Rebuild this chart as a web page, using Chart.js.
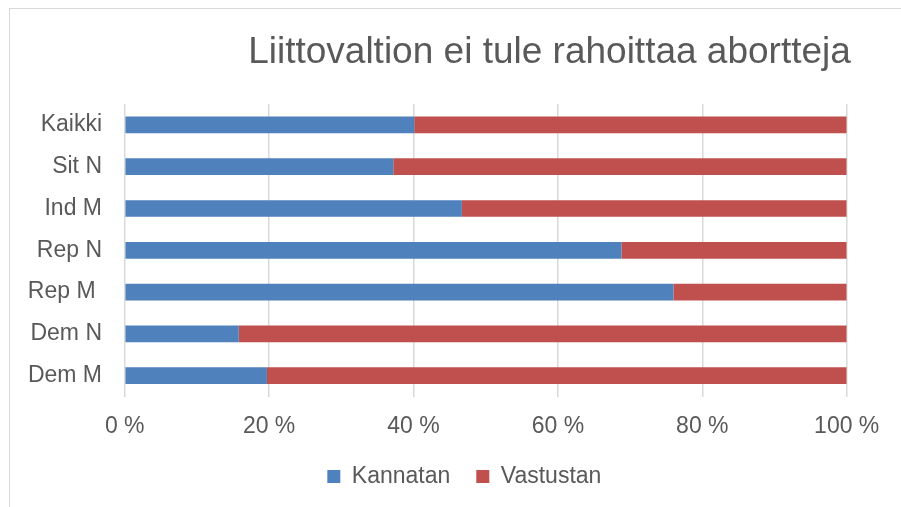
<!DOCTYPE html>
<html>
<head>
<meta charset="utf-8">
<script src="https://cdn.jsdelivr.net/npm/chart.js@4.4.0/dist/chart.umd.min.js"></script>
<style>
  html, body { margin: 0; padding: 0; background: #ffffff; }
  #wrap { position: relative; width: 901px; height: 507px; overflow: hidden; }
  #c { position: absolute; left: 0; top: 0; }
  #frame { position: absolute; left: 9px; top: 8px; width: 1000px; height: 600px;
           border-left: 1px solid #d9d9d9; border-top: 1px solid #d9d9d9; pointer-events: none; }
</style>
</head>
<body>
<div id="wrap">
  <canvas id="c" width="901" height="507"></canvas>
  <div id="frame"></div>
</div>
<script>
const titleText = 'Liittovaltion ei tule rahoittaa abortteja';
const categories = ['Kaikki', 'Sit N', 'Ind M', 'Rep N', 'Rep M ', 'Dem N', 'Dem M'];
const seriesNames = ['Kannatan', 'Vastustan'];
const kannatan = [40.1, 37.2, 46.7, 68.8, 76.0, 15.8, 19.7];
const vastustan = [59.9, 62.8, 53.3, 31.2, 24.0, 84.2, 80.3];
const xTicks = [0, 20, 40, 60, 80, 100];

const FONT = "'Liberation Sans', Arial, sans-serif";
const TEXT = '#595959';

const titlePlugin = {
  id: 'customTitle',
  afterLayout(chart) {
    // let the category labels use the space to the left of the axis box
    chart.scales.y.left = 0;
  },
  afterDraw(chart) {
    const ctx = chart.ctx;
    ctx.save();
    ctx.font = "37px " + FONT;
    ctx.fillStyle = TEXT;
    ctx.textAlign = 'center';
    ctx.textBaseline = 'alphabetic';
    ctx.fillText(titleText, 549.5, 63);
    ctx.restore();
  }
};

new Chart(document.getElementById('c'), {
  type: 'bar',
  data: {
    labels: categories,
    datasets: [
      { label: seriesNames[0], data: kannatan, backgroundColor: '#4F81BD', borderWidth: 0 },
      { label: seriesNames[1], data: vastustan, backgroundColor: '#C0504D', borderWidth: 0 }
    ]
  },
  options: {
    indexAxis: 'y',
    responsive: false,
    animation: false,
    devicePixelRatio: 1,
    layout: { autoPadding: false, padding: { top: 104, left: 82, right: 54.3, bottom: 9 } },
    datasets: { bar: { barPercentage: 0.4, categoryPercentage: 1.0 } },
    scales: {
      x: {
        stacked: true,
        min: 0, max: 100,
        afterBuildTicks(scale) { scale.ticks = xTicks.map(v => ({ value: v })); },
        afterFit(scale) { scale.height = 42.4; scale.paddingLeft = 0; scale.paddingRight = 0; },
        grid: { color: '#d9d9d9', lineWidth: 1.5, drawTicks: false },
        border: { display: false },
        ticks: {
          padding: 16,
          color: TEXT,
          font: { family: FONT, size: 23 },
          maxRotation: 0,
          callback: (v) => v + ' %'
        }
      },
      y: {
        stacked: true,
        afterFit(scale) { scale.width = 124.7 - 82; },
        grid: { display: false, drawTicks: false },
        border: { display: false },
        ticks: {
          padding: 22.7,
          color: TEXT,
          font: { family: FONT, size: 23 }
        }
      }
    },
    plugins: {
      title: { display: false },
      tooltip: { enabled: false },
      legend: {
        position: 'bottom',
        labels: {
          boxWidth: 13,
          boxHeight: 13,
          padding: 26,
          color: TEXT,
          font: { family: FONT, size: 23 }
        }
      }
    }
  },
  plugins: [titlePlugin]
});
</script>
</body>
</html>
